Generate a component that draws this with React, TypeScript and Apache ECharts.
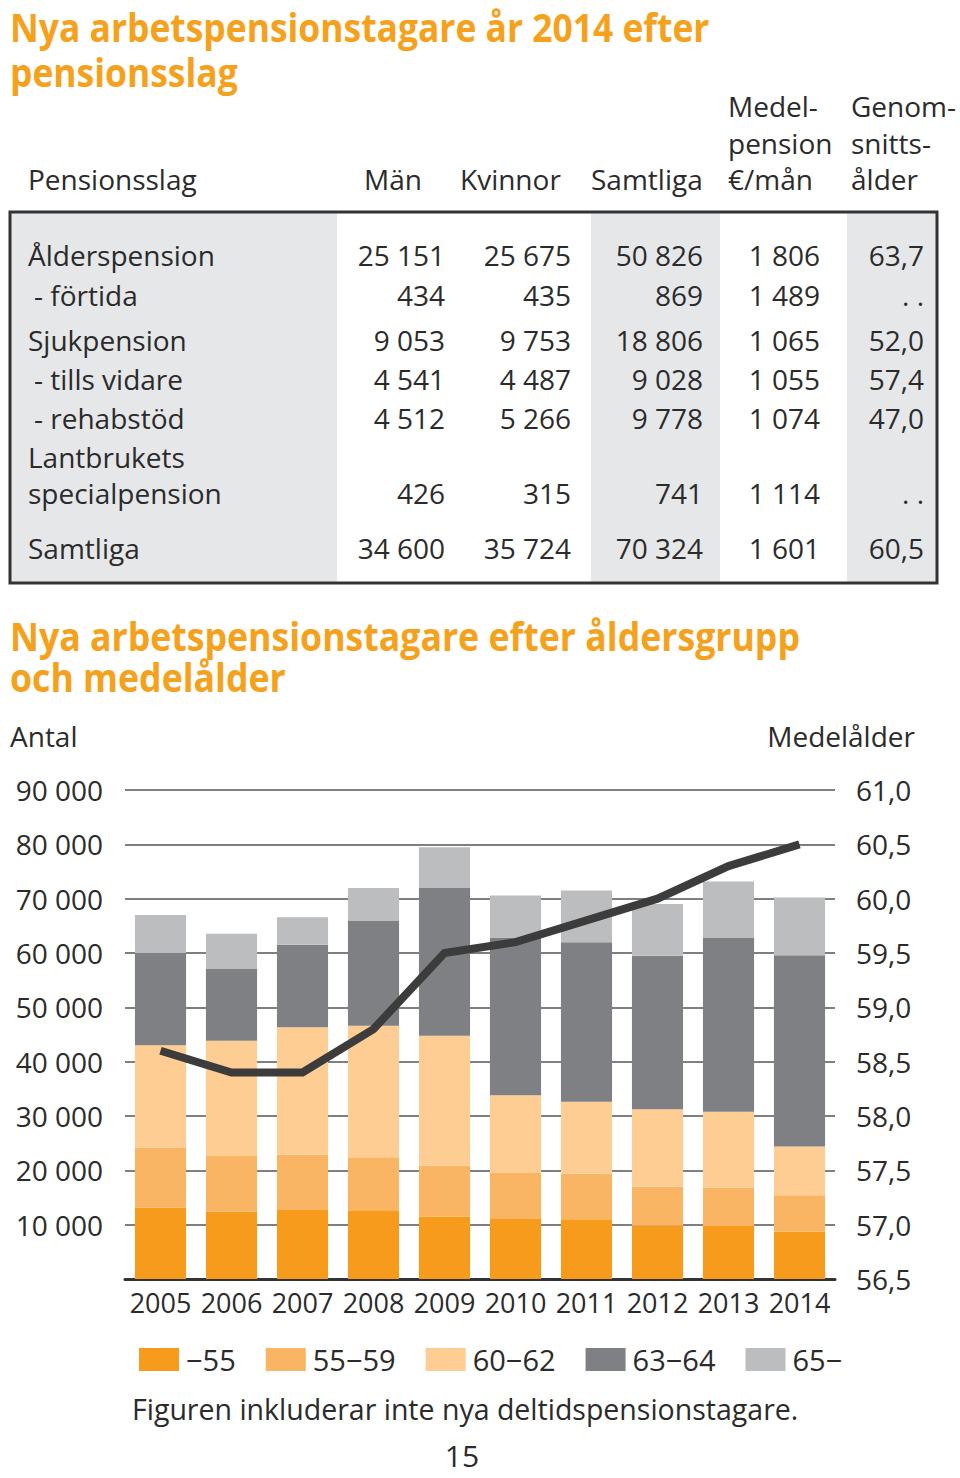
import React, { useEffect, useRef } from "react";
import * as echarts from "echarts";

const FONT = "'Open Sans', 'Noto Sans', 'DejaVu Sans', sans-serif";
const TEXT = "#2b2b2b";
const TITLE_ORANGE = "#f5a11c";

// ---------- Table data ----------
const tableTitle = ["Nya arbetspensionstagare år 2014 efter", "pensionsslag"];
const pensionTypes = ["Ålderspension", " - förtida", "Sjukpension", " - tills vidare", " - rehabstöd", "specialpension", "Samtliga"];
const menCount = [25151, 434, 9053, 4541, 4512, 426, 34600];
const womenCount = [25675, 435, 9753, 4487, 5266, 315, 35724];
const totalCount = [50826, 869, 18806, 9028, 9778, 741, 70324];
const meanPension = [1806, 1489, 1065, 1055, 1074, 1114, 1601];
const averageAge: (number | null)[] = [63.7, null, 52.0, 57.4, 47.0, null, 60.5];

// ---------- Chart data ----------
const chartTitle = ["Nya arbetspensionstagare efter åldersgrupp", "och medelålder"];
const years = ["2005", "2006", "2007", "2008", "2009", "2010", "2011", "2012", "2013", "2014"];
const ageGroups = ["−55", "55−59", "60−62", "63−64", "65−"];
const ageUnder55 = [13100, 12400, 12700, 12650, 11500, 11050, 11000, 9800, 9750, 8700];
const age55to59 = [11100, 10250, 10150, 9750, 9350, 8450, 8400, 7200, 7050, 6700];
const age60to62 = [18800, 21200, 23500, 24200, 23900, 14300, 13200, 14250, 14000, 9000];
const age63to64 = [17000, 13200, 15150, 19400, 27200, 28950, 29400, 28250, 31950, 35200];
const age65plus = [7000, 6500, 5100, 5950, 7500, 7850, 9500, 9500, 10400, 10600];
const meanAge = [58.6, 58.4, 58.4, 58.8, 59.5, 59.6, 59.8, 60.0, 60.3, 60.5];
const ageColors = ["#f69b1c", "#f9b563", "#fdcd93", "#7f8083", "#bcbdbf"];

const fmt = (n: number) => String(n).replace(/\B(?=(\d{3})+(?!\d))/g, "\u00a0");
const dec = (n: number) => n.toFixed(1).replace(".", ",");

function measure(text: string, font: string) {
  const ctx = document.createElement("canvas").getContext("2d");
  if (!ctx) return text.length * 20;
  ctx.font = font;
  return ctx.measureText(text).width;
}

export default function App() {
  const ref = useRef<HTMLDivElement>(null);

  useEffect(() => {
    if (!ref.current) return;
    const chart = echarts.init(ref.current, undefined, { renderer: "svg" });

    const titleFont = `bold 40px ${FONT}`;
    const s1 = 700 / measure(tableTitle[0], titleFont);
    const s2 = 790 / measure(chartTitle[0], titleFont);

    const txt = (text: string, x: number, y: number, opts: any = {}) => ({
      type: "text",
      x,
      y,
      silent: true,
      scaleX: opts.scaleX ?? 1,
      style: {
        text,
        fill: opts.fill ?? TEXT,
        font: opts.font ?? `28px ${FONT}`,
        align: opts.align ?? "left",
        verticalAlign: "middle",
      },
    });

    const g: any[] = [];
    // titles
    g.push(txt(tableTitle[0], 10, 27, { font: titleFont, fill: TITLE_ORANGE, scaleX: s1 }));
    g.push(txt(tableTitle[1], 10, 72, { font: titleFont, fill: TITLE_ORANGE, scaleX: s1 }));
    g.push(txt(chartTitle[0], 10, 636, { font: titleFont, fill: TITLE_ORANGE, scaleX: s2 }));
    g.push(txt(chartTitle[1], 10, 677, { font: titleFont, fill: TITLE_ORANGE, scaleX: s2 }));

    // table backgrounds
    const GRAY = "#e6e7e8";
    g.push({ type: "rect", shape: { x: 10, y: 212, width: 327, height: 371 }, style: { fill: GRAY }, silent: true });
    g.push({ type: "rect", shape: { x: 591, y: 212, width: 129, height: 371 }, style: { fill: GRAY }, silent: true });
    g.push({ type: "rect", shape: { x: 847, y: 212, width: 90, height: 371 }, style: { fill: GRAY }, silent: true });
    g.push({ type: "rect", shape: { x: 10, y: 212, width: 927, height: 371 }, style: { fill: "none", stroke: "#333", lineWidth: 3 }, silent: true });

    // headers
    g.push(txt("Pensionsslag", 28, 179));
    g.push(txt("Män", 422, 179, { align: "right" }));
    g.push(txt("Kvinnor", 460, 179));
    g.push(txt("Samtliga", 591, 179));
    g.push(txt("Medel-", 728, 106));
    g.push(txt("pension", 728, 143));
    g.push(txt("€/mån", 728, 179));
    g.push(txt("Genom-", 851, 106));
    g.push(txt("snitts-", 851, 143));
    g.push(txt("ålder", 851, 179));

    const rowY = [255, 295, 340, 379, 418, 493, 548];
    pensionTypes.forEach((name, i) => {
      const y = rowY[i];
      const indent = name.startsWith(" ");
      g.push(txt(indent ? name.trim() : name, indent ? 34 : 28, y));
      g.push(txt(fmt(menCount[i]), 445, y, { align: "right" }));
      g.push(txt(fmt(womenCount[i]), 571, y, { align: "right" }));
      g.push(txt(fmt(totalCount[i]), 703, y, { align: "right" }));
      g.push(txt(fmt(meanPension[i]), 820, y, { align: "right" }));
      const a = averageAge[i];
      g.push(txt(a == null ? ". ." : dec(a), 924, y, { align: "right" }));
    });
    g.push(txt("Lantbrukets", 28, 457));

    // axis captions
    g.push(txt("Antal", 10, 736));
    g.push(txt("Medelålder", 915, 736, { align: "right" }));

    // footer
    g.push(txt("Figuren inkluderar inte nya deltidspensionstagare.", 132, 1409, { font: `28.5px ${FONT}` }));
    g.push(txt("15", 462, 1455, { font: `30px ${FONT}`, align: "center" }));

    const barSeries = [ageUnder55, age55to59, age60to62, age63to64, age65plus].map((d, i) => ({
      name: ageGroups[i],
      type: "bar",
      stack: "total",
      data: d,
      barWidth: "72%",
      itemStyle: { color: ageColors[i] },
      z: 2,
    }));

    chart.setOption({
      animation: false,
      textStyle: { fontFamily: FONT },
      grid: { left: 125, right: 125, top: 790, bottom: 199, containLabel: false },
      legend: {
        data: ageGroups,
        left: 134,
        top: 1340,
        icon: "rect",
        itemWidth: 40,
        itemHeight: 23,
        itemGap: 30,
        selectedMode: false,
        textStyle: { fontSize: 29, color: TEXT, fontFamily: FONT, padding: [0, 0, 0, 2] },
      },
      xAxis: {
        type: "category",
        data: years,
        axisLine: { lineStyle: { color: "#333", width: 3 } },
        axisTick: { show: false },
        axisLabel: { interval: 0, margin: 10, fontSize: 27, color: TEXT, fontFamily: FONT },
      },
      yAxis: [
        {
          type: "value",
          min: 0,
          max: 90000,
          interval: 10000,
          axisLine: { show: false },
          axisTick: { show: false },
          axisLabel: {
            formatter: (v: number) => (v === 0 ? "" : fmt(v)),
            margin: 22,
            fontSize: 28,
            color: TEXT,
            fontFamily: FONT,
          },
          splitLine: { lineStyle: { color: "#555", width: 1.5 } },
        },
        {
          type: "value",
          position: "right",
          min: 56.5,
          max: 61,
          interval: 0.5,
          axisLine: { show: false },
          axisTick: { show: false },
          axisLabel: { formatter: (v: number) => dec(v), margin: 21, fontSize: 28, color: TEXT, fontFamily: FONT },
          splitLine: { show: false },
        },
      ],
      series: [
        ...barSeries,
        {
          name: "Medelålder",
          type: "line",
          yAxisIndex: 1,
          data: meanAge,
          symbol: "none",
          z: 5,
          lineStyle: { color: "#3c3c3c", width: 8, cap: "butt", join: "miter" },
        },
      ],
      graphic: { elements: g },
    });

    return () => chart.dispose();
  }, []);

  return <div ref={ref} style={{ position: "absolute", left: 0, top: 0, width: 960, height: 1478, background: "#fff" }} />;
}
